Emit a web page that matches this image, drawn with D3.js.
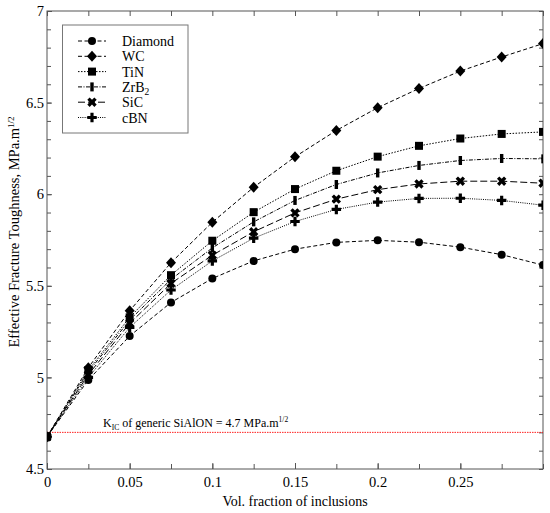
<!DOCTYPE html>
<html><head><meta charset="utf-8">
<script src="https://cdn.jsdelivr.net/npm/d3@7"></script>
<style>body{margin:0;background:#fff}svg text{font-family:'Liberation Serif','Times New Roman',serif}</style>
</head><body><svg id="c" width="550" height="513"></svg>
<script>
const xValues = [0, 0.025, 0.05, 0.075, 0.1, 0.125, 0.15, 0.175, 0.2, 0.225, 0.25, 0.275, 0.3];
const seriesNames = ["Diamond", "WC", "TiN", "ZrB2", "SiC", "cBN"];
const diamondVals = [4.676, 4.986, 5.226, 5.409, 5.540, 5.636, 5.700, 5.737, 5.748, 5.738, 5.711, 5.670, 5.613];
const wcVals      = [4.676, 5.053, 5.364, 5.626, 5.847, 6.038, 6.204, 6.348, 6.472, 6.577, 6.672, 6.749, 6.822];
const tinVals     = [4.676, 5.040, 5.328, 5.558, 5.746, 5.902, 6.028, 6.128, 6.205, 6.264, 6.304, 6.329, 6.340];
const zrb2Vals    = [4.676, 5.030, 5.313, 5.535, 5.707, 5.849, 5.966, 6.053, 6.116, 6.157, 6.184, 6.195, 6.193];
const sicVals     = [4.676, 5.015, 5.295, 5.513, 5.667, 5.795, 5.898, 5.973, 6.025, 6.056, 6.071, 6.071, 6.060];
const cbnVals     = [4.676, 5.000, 5.273, 5.477, 5.636, 5.760, 5.851, 5.917, 5.957, 5.977, 5.978, 5.966, 5.940];
const xTickVals = [0, 0.05, 0.1, 0.15, 0.2, 0.25];
const xTickLabels = ["0", "0.05", "0.1", "0.15", "0.2", "0.25"];
const yTickVals = [4.5, 5, 5.5, 6, 6.5, 7];
const yTickLabels = ["4.5", "5", "5.5", "6", "6.5", "7"];
const baselineKic = 4.7;

const allVals = [diamondVals, wcVals, tinVals, zrb2Vals, sicVals, cbnVals];
const styles = {
  Diamond: {dash: "4,2.5", sym: "circle"},
  WC:      {dash: "4,2.5", sym: "diamond"},
  TiN:     {dash: "1.5,1.5", sym: "square"},
  ZrB2:    {dash: "4,1.5,1,1.5", sym: "bar"},
  SiC:     {dash: "7,3", sym: "x"},
  cBN:     {dash: "1,1.2", sym: "plus"}
};
const FONT = "'Liberation Serif','Times New Roman',serif";

const L = 47, R = 543, T = 11, B = 469;
const svg = d3.select("#c");
const x = d3.scaleLinear().domain([0, 0.3]).range([L, R]);
const y = d3.scaleLinear().domain([4.5, 7]).range([B, T]);
const frameColor = "#555";

svg.append("defs").append("clipPath").attr("id", "clip")
  .append("rect").attr("x", L).attr("y", T).attr("width", R - L).attr("height", B - T);

function styleAxis(g) {
  g.attr("font-family", FONT);
  g.select(".domain").remove();
  g.selectAll(".tick line").attr("stroke", frameColor);
  g.selectAll(".tick text").attr("fill", "#000").attr("font-family", FONT).attr("font-size", 14.5);
}
const xMinor = d3.range(0, 0.3001, 0.025);
const yMinor = d3.range(4.5, 7.0001, 0.1);

svg.append("g").attr("transform", `translate(0,${B})`)
  .call(d3.axisBottom(x).tickValues(xMinor).tickSize(-5).tickFormat("")).call(styleAxis);
svg.append("g").attr("transform", `translate(0,${B})`)
  .call(d3.axisBottom(x).tickValues(xTickVals).tickSize(-6).tickPadding(8)
    .tickFormat((d, i) => xTickLabels[i])).call(styleAxis);
svg.append("g").attr("transform", `translate(0,${T})`)
  .call(d3.axisTop(x).tickValues(xMinor).tickSize(-5).tickFormat("")).call(styleAxis);
svg.append("g").attr("transform", `translate(${L},0)`)
  .call(d3.axisLeft(y).tickValues(yMinor).tickSize(-4).tickFormat("")).call(styleAxis);
svg.append("g").attr("transform", `translate(${L},0)`)
  .call(d3.axisLeft(y).tickValues(yTickVals).tickSize(-5).tickPadding(3)
    .tickFormat((d, i) => yTickLabels[i])).call(styleAxis);
svg.append("g").attr("transform", `translate(${R},0)`)
  .call(d3.axisRight(y).tickValues(yMinor).tickSize(-4).tickFormat("")).call(styleAxis);

svg.append("rect").attr("x", L).attr("y", T).attr("width", R - L).attr("height", B - T)
  .attr("fill", "none").attr("stroke", frameColor).attr("stroke-width", 1);

// red reference line
svg.append("line").attr("x1", L).attr("x2", R).attr("y1", y(baselineKic)).attr("y2", y(baselineKic))
  .attr("stroke", "#ff2020").attr("stroke-width", 1).attr("stroke-dasharray", "1.5,1");

const ann = svg.append("text").attr("x", 103).attr("y", y(baselineKic) - 5)
  .attr("font-family", FONT).attr("font-size", 12);
ann.append("tspan").text("K");
ann.append("tspan").attr("dy", 3).attr("font-size", 7.5).text("IC");
ann.append("tspan").attr("dy", -3).text(" of generic SiAlON = 4.7 MPa.m");
ann.append("tspan").attr("dy", -5).attr("font-size", 7.5).text("1/2");

function drawMarker(g, type, cx, cy) {
  if (type === "circle") g.append("circle").attr("cx", cx).attr("cy", cy).attr("r", 4);
  else if (type === "diamond") g.append("path").attr("d", `M${cx},${cy - 5.5}L${cx + 5},${cy}L${cx},${cy + 5.5}L${cx - 5},${cy}Z`);
  else if (type === "square") g.append("rect").attr("x", cx - 4).attr("y", cy - 4).attr("width", 8).attr("height", 8);
  else if (type === "bar") g.append("rect").attr("x", cx - 1.7).attr("y", cy - 4.5).attr("width", 3.4).attr("height", 9);
  else if (type === "x") g.append("path").attr("d", d3.symbol(d3.symbolCross, 55)()).attr("transform", `translate(${cx},${cy}) rotate(45)`);
  else if (type === "plus") g.append("path").attr("d", d3.symbol(d3.symbolCross, 50)()).attr("transform", `translate(${cx},${cy})`);
}

const plot = svg.append("g").attr("clip-path", "url(#clip)");
const line = d3.line().x((d, i) => x(xValues[i])).y(d => y(d));
seriesNames.forEach((name, k) => {
  const vals = allVals[k];
  const st = styles[name];
  plot.append("path").datum(vals).attr("d", line).attr("fill", "none")
    .attr("stroke", "#000").attr("stroke-width", 1).attr("stroke-dasharray", st.dash);
  const mg = plot.append("g").attr("fill", "#000");
  vals.forEach((v, i) => drawMarker(mg, st.sym, x(xValues[i]), y(v)));
});

// legend
const lg = svg.append("g");
lg.append("rect").attr("x", 62.5).attr("y", 25).attr("width", 125.5).attr("height", 108)
  .attr("fill", "#fff").attr("stroke", "#777").attr("stroke-width", 1);
seriesNames.forEach((name, k) => {
  const st = styles[name];
  const yy = 41 + k * 15.3;
  lg.append("line").attr("x1", 78).attr("x2", 106).attr("y1", yy).attr("y2", yy)
    .attr("stroke", "#000").attr("stroke-width", 1).attr("stroke-dasharray", st.dash);
  const mg = lg.append("g").attr("fill", "#000");
  drawMarker(mg, st.sym, 92, yy);
  const t = lg.append("text").attr("x", 122).attr("y", yy + 5)
    .attr("font-family", FONT).attr("font-size", 14);
  if (name === "ZrB2") {
    t.append("tspan").text("ZrB");
    t.append("tspan").attr("dy", 3).attr("font-size", 9.5).text("2");
  } else t.text(name);
});

// axis titles
svg.append("text").attr("x", (L + R) / 2).attr("y", 506).attr("text-anchor", "middle")
  .attr("font-family", FONT).attr("font-size", 14).text("Vol. fraction of inclusions");
const yt = svg.append("text").attr("transform", `translate(19,232) rotate(-90)`).attr("text-anchor", "middle")
  .attr("font-family", FONT).attr("font-size", 14.5);
yt.append("tspan").text("Effective Fracture Toughness, MPa.m");
yt.append("tspan").attr("dy", -5).attr("font-size", 9).text("1/2");
</script></body></html>
